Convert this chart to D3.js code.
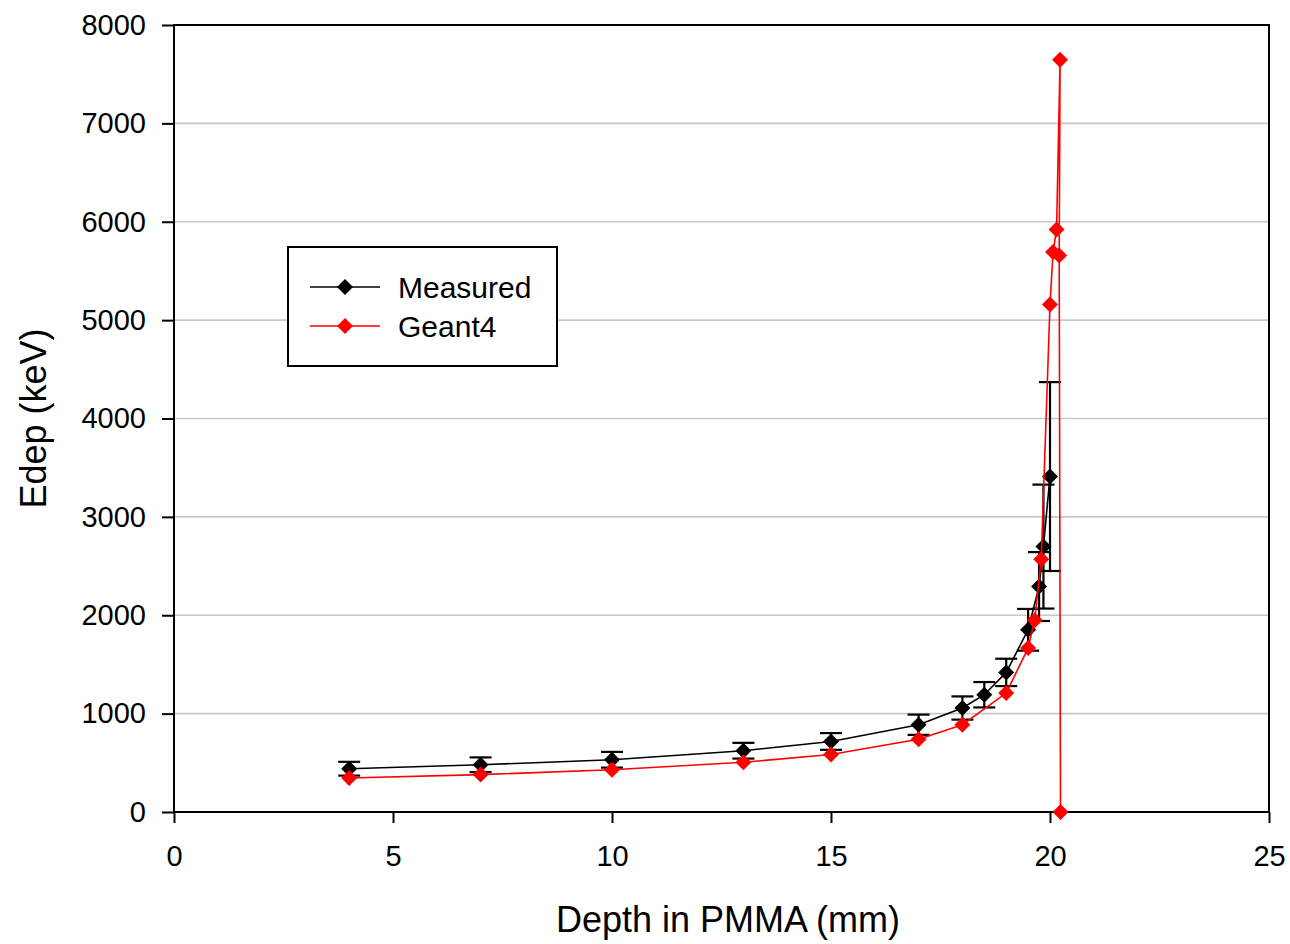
<!DOCTYPE html>
<html>
<head>
<meta charset="utf-8">
<script src="https://cdn.jsdelivr.net/npm/d3@7"></script>
<style>
	body { margin: 0; background: #fff; }
	svg { display: block; font-family: "Liberation Sans", Arial, sans-serif; }
	.grid line { stroke: #c8c8c8; stroke-width: 1.6px; }
	.axis line { stroke: #000; stroke-width: 2px; }
	.axis text { font-size: 29px; fill: #000; }
	.frame { fill: none; stroke: #000; stroke-width: 2px; }
</style>
</head>
<body>
<div id="chart"></div>
<script>
// measured (black, with error bars)
var measuredDepth = [4, 7, 10, 13, 15, 17, 18, 18.5, 19, 19.5, 19.75, 19.85, 20];
var measuredEdep  = [440, 480, 531, 623, 717, 887, 1057, 1192, 1419, 1852, 2292, 2698, 3410];
var measuredErr   = [70, 75, 80, 80, 85, 103, 118, 129, 139, 212, 350, 630, 960];

// Geant4 (red)
var geantDepth = [4, 7, 10, 13, 15, 17, 18, 19, 19.5, 19.65, 19.8, 20.0, 20.07, 20.15, 20.23, 20.21, 20.24];
var geantEdep  = [345, 380, 430, 505, 585, 740, 887, 1209, 1666, 1950, 2570, 5158, 5693, 5920, 7646, 5656, 0];

var xTicks = [0, 5, 10, 15, 20, 25];
var yTicks = [0, 1000, 2000, 3000, 4000, 5000, 6000, 7000, 8000];
var gridTicks = [1000, 2000, 3000, 4000, 5000, 6000, 7000];

var options = {
	container: { width: 1290, height: 944 },
	margin: { top: 25, right: 21, bottom: 132, left: 174 }
};

var width = options.container.width - options.margin.left - options.margin.right,
	height = options.container.height - options.margin.top - options.margin.bottom;

var svg = d3.select("#chart").append("svg")
	.attr("width", options.container.width)
	.attr("height", options.container.height);

var g = svg.append("g")
	.attr("transform", "translate(" + options.margin.left + "," + options.margin.top + ")");

var x = d3.scaleLinear().domain([0, 25]).range([0, width]);
var y = d3.scaleLinear().domain([0, 8000]).range([height, 0]);

var measured = measuredDepth.map(function(d, i) { return { x: d, y: measuredEdep[i], e: measuredErr[i] }; });
var geant = geantDepth.map(function(d, i) { return { x: d, y: geantEdep[i] }; });

// horizontal grid
g.append("g")
	.attr("class", "grid")
	.selectAll("line")
	.data(gridTicks)
	.enter().append("line")
	.attr("x1", 0)
	.attr("x2", width)
	.attr("y1", function(d) { return y(d); })
	.attr("y2", function(d) { return y(d); });

// axes
g.append("g")
	.attr("class", "axis axis--x")
	.attr("transform", "translate(0," + height + ")")
	.call(d3.axisBottom(x).tickValues(xTicks).tickSize(11).tickPadding(22).tickFormat(d3.format("d")));

g.append("g")
	.attr("class", "axis axis--y")
	.call(d3.axisLeft(y).tickValues(yTicks).tickSize(12).tickPadding(16).tickFormat(d3.format("d")));

g.selectAll(".axis .domain").remove();

g.append("rect")
	.attr("class", "frame")
	.attr("width", width)
	.attr("height", height);

// axis titles
svg.append("text")
	.attr("x", 728)
	.attr("y", 932)
	.attr("text-anchor", "middle")
	.style("font-size", "36px")
	.text("Depth in PMMA (mm)");

svg.append("text")
	.attr("transform", "translate(46," + (options.margin.top + height / 2) + ") rotate(-90)")
	.attr("text-anchor", "middle")
	.style("font-size", "36px")
	.text("Edep (keV)");

var line = d3.line()
	.x(function(d) { return x(d.x); })
	.y(function(d) { return y(d.y); });

var diamond = d3.symbol().type(d3.symbolSquare).size(128);

// measured series
var gm = g.append("g").attr("class", "measured");

gm.append("path")
	.datum(measured)
	.attr("d", line)
	.style("fill", "none")
	.style("stroke", "#000")
	.style("stroke-width", 1.6);

var bars = gm.selectAll(".err")
	.data(measured)
	.enter().append("g")
	.attr("class", "err")
	.style("stroke", "#000")
	.style("stroke-width", 2.2);

bars.append("line")
	.attr("x1", function(d) { return x(d.x); })
	.attr("x2", function(d) { return x(d.x); })
	.attr("y1", function(d) { return y(d.y - d.e); })
	.attr("y2", function(d) { return y(d.y + d.e); });

bars.append("line")
	.attr("x1", function(d) { return x(d.x) - 11; })
	.attr("x2", function(d) { return x(d.x) + 11; })
	.attr("y1", function(d) { return y(d.y + d.e); })
	.attr("y2", function(d) { return y(d.y + d.e); });

bars.append("line")
	.attr("x1", function(d) { return x(d.x) - 11; })
	.attr("x2", function(d) { return x(d.x) + 11; })
	.attr("y1", function(d) { return y(d.y - d.e); })
	.attr("y2", function(d) { return y(d.y - d.e); });

gm.selectAll(".pt")
	.data(measured)
	.enter().append("path")
	.attr("class", "pt")
	.attr("d", diamond)
	.attr("transform", function(d) { return "translate(" + x(d.x) + "," + y(d.y) + ") rotate(45)"; })
	.style("fill", "#000");

// geant4 series
var gg = g.append("g").attr("class", "geant");

gg.append("path")
	.datum(geant)
	.attr("d", line)
	.style("fill", "none")
	.style("stroke", "#f00")
	.style("stroke-width", 1.6);

gg.selectAll(".pt")
	.data(geant)
	.enter().append("path")
	.attr("class", "pt")
	.attr("d", diamond)
	.attr("transform", function(d) { return "translate(" + x(d.x) + "," + y(d.y) + ") rotate(45)"; })
	.style("fill", "#f00");

// legend
var legendItems = [
	{ name: "Measured", color: "#000" },
	{ name: "Geant4", color: "#f00" }
];

var legend = svg.append("g")
	.attr("transform", "translate(288,247)");

legend.append("rect")
	.attr("width", 269)
	.attr("height", 119)
	.style("fill", "#fff")
	.style("stroke", "#000")
	.style("stroke-width", 2);

var li = legend.selectAll(".item")
	.data(legendItems)
	.enter().append("g")
	.attr("class", "item")
	.attr("transform", function(d, i) { return "translate(0," + (40 + i * 39) + ")"; });

li.append("line")
	.attr("x1", 22)
	.attr("x2", 92)
	.style("stroke", function(d) { return d.color; })
	.style("stroke-width", 1.6);

li.append("path")
	.attr("d", diamond)
	.attr("transform", "translate(57,0) rotate(45)")
	.style("fill", function(d) { return d.color; });

li.append("text")
	.attr("x", 110)
	.attr("dy", "0.35em")
	.style("font-size", "30px")
	.text(function(d) { return d.name; });
</script>
</body>
</html>
